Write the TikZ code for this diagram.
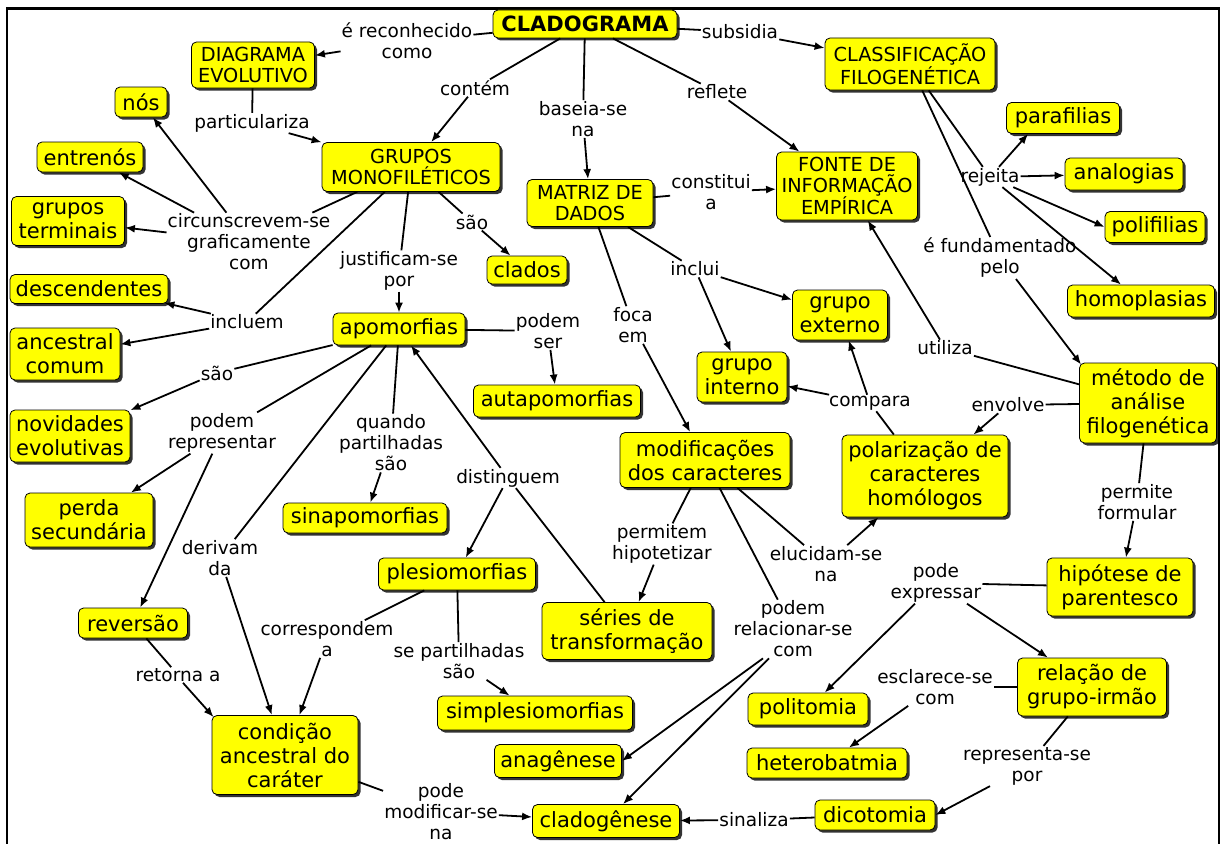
\documentclass[tikz,border=0pt]{standalone}
\usepackage{fontspec}
\setmainfont{DejaVu Sans}
\usetikzlibrary{arrows.meta,shadows}
\definecolor{cyellow}{RGB}{255,255,0}
\tikzset{
  cbox/.style={draw=black, line width=0.8pt, fill=cyellow, rounded corners=5pt,
    inner sep=0pt, align=center, font=\fontsize{21}{24}\selectfont,
    drop shadow={shadow xshift=2.5pt, shadow yshift=-2.5pt, fill=black, opacity=0.8}},
  capbox/.style={cbox, font=\fontsize{19.3}{21}\selectfont},
  lbl/.style={inner sep=1pt, align=center, font=\fontsize{18.5}{21}\selectfont},
  ln/.style={line width=1.8pt},
  arr/.style={ln, -{Latex[length=10pt,width=8pt]}},
}
\begin{document}
\begin{tikzpicture}[x=1pt,y=-1pt]
\useasboundingbox (0,0) rectangle (1225,843);
\fill[white] (0,0) rectangle (1225,843);
\draw[line width=2.2pt] (7,8.5) rectangle (1219,860);

% concept nodes
\node[capbox, font=\bfseries\fontsize{21}{24}\selectfont, minimum width=184pt, minimum height=28pt] (clad) at (585,24) {CLADOGRAMA};
\node[capbox,minimum width=123pt,minimum height=46pt] (diag) at (253,65) {DIAGRAMA\\EVOLUTIVO};
\node[cbox,minimum width=52pt,minimum height=30pt] (nos) at (141,102) {nós};
\node[cbox,minimum width=106pt,minimum height=30pt] (entre) at (90,157) {entrenós};
\node[cbox,minimum width=113pt,minimum height=49pt] (gterm) at (68,221) {grupos\\terminais};
\node[capbox,minimum width=178pt,minimum height=49pt] (gmono) at (411,167) {GRUPOS\\MONOFILÉTICOS};
\node[cbox,minimum width=158pt,minimum height=29pt] (desc) at (89,289) {descendentes};
\node[cbox,minimum width=110pt,minimum height=52pt] (anc) at (65,354) {ancestral\\comum};
\node[cbox,minimum width=120pt,minimum height=52pt] (novid) at (70,436) {novidades\\evolutivas};
\node[cbox,minimum width=128pt,minimum height=54pt] (perda) at (89,520) {perda\\secundária};
\node[cbox,minimum width=132pt,minimum height=32pt] (apo) at (399,329) {apomorfias};
\node[cbox,minimum width=80pt,minimum height=28pt] (clados) at (527,270) {clados};
\node[capbox,minimum width=126pt,minimum height=47pt] (matriz) at (590,203) {MATRIZ DE\\DADOS};
\node[capbox,minimum width=141pt,minimum height=68pt] (fonte) at (847,186) {FONTE DE\\INFORMAÇÃO\\EMPÍRICA};
\node[capbox,minimum width=170pt,minimum height=52pt] (classif) at (910,64) {CLASSIFICAÇÃO\\FILOGENÉTICA};
\node[cbox,minimum width=113pt,minimum height=31pt] (paraf) at (1063,118) {parafilias};
\node[cbox,minimum width=118pt,minimum height=32pt] (analog) at (1124,174) {analogias};
\node[cbox,minimum width=100pt,minimum height=31pt] (polif) at (1155,227) {polifilias};
\node[cbox,minimum width=147pt,minimum height=32pt] (homop) at (1141,301) {homoplasias};
\node[cbox,minimum width=95pt,minimum height=50pt] (gext) at (840,315) {grupo\\externo};
\node[cbox,minimum width=90pt,minimum height=50pt] (gint) at (742,377) {grupo\\interno};
\node[cbox,minimum width=167pt,minimum height=32pt] (autap) at (557,401) {autapomorfias};
\node[cbox,minimum width=170pt,minimum height=55pt] (modif) at (705,460) {modificações\\dos caracteres};
\node[cbox,minimum width=166pt,minimum height=82pt] (polar) at (925,476) {polarização de\\caracteres\\homólogos};
\node[cbox,minimum width=137pt,minimum height=80pt] (metodo) at (1148,403) {método de\\análise\\filogenética};
\node[cbox,minimum width=164pt,minimum height=30pt] (sinap) at (365,518) {sinapomorfias};
\node[cbox,minimum width=157pt,minimum height=32pt] (plesio) at (457,574) {plesiomorfias};
\node[cbox,minimum width=170pt,minimum height=57pt] (series) at (627,631) {séries de\\transformação};
\node[cbox,minimum width=146pt,minimum height=58pt] (hipot) at (1120,587) {hipótese de\\parentesco};
\node[cbox,minimum width=109pt,minimum height=30pt] (revers) at (133,623) {reversão};
\node[cbox,minimum width=146pt,minimum height=79pt] (cond) at (285,755) {condição\\ancestral do\\caráter};
\node[cbox,minimum width=195pt,minimum height=34pt] (simple) at (535,713) {simplesiomorfias};
\node[cbox,minimum width=127pt,minimum height=33pt] (anag) at (558,761) {anagênese};
\node[cbox,minimum width=147pt,minimum height=33pt] (clado) at (606,821) {cladogênese};
\node[cbox,minimum width=120pt,minimum height=32pt] (polit) at (808,709) {politomia};
\node[cbox,minimum width=160pt,minimum height=30pt] (hetero) at (827,763) {heterobatmia};
\node[cbox,minimum width=149pt,minimum height=58pt] (relac) at (1092,687) {relação de\\grupo-irmão};
\node[cbox,minimum width=120pt,minimum height=30pt] (dicot) at (875,815) {dicotomia};

% linking phrases
\node[lbl] (lrec) at (407,41) {é reconhecido\\como};
\node[lbl] (lsub) at (740,32) {subsidia};
\node[lbl] (lcont) at (475,88) {contém};
\node[lbl] (lbase) at (583,119) {baseia-se\\na};
\node[lbl] (lrefl) at (717,92) {reflete};
\node[lbl] (lpart) at (252,123) {particulariza};
\node[lbl] (lcirc) at (249,242) {circunscrevem-se\\graficamente\\com};
\node[lbl] (ljust) at (399,271) {justificam-se\\por};
\node[lbl] (lsao1) at (472,222) {são};
\node[lbl] (lincl) at (247,322) {incluem};
\node[lbl] (lsao2) at (217,373) {são};
\node[lbl] (lpod) at (222,433) {podem\\representar};
\node[lbl] (lderiv) at (220,558) {derivam\\da};
\node[lbl] (lquand) at (391,443) {quando\\partilhadas\\são};
\node[lbl] (lpodser) at (548,331) {podem\\ser};
\node[lbl] (ldist) at (508,478) {distinguem};
\node[lbl] (lfoca) at (633,325) {foca\\em};
\node[lbl] (linclui) at (695,269) {inclui};
\node[lbl] (lconst) at (711,192) {constitui\\a};
\node[lbl] (lrej) at (990,177) {rejeita};
\node[lbl] (lfund) at (1000,258) {é fundamentado\\pelo};
\node[lbl] (lutil) at (945,348) {utiliza};
\node[lbl] (lenv) at (1008,405) {envolve};
\node[lbl] (lcomp) at (870,403) {compara};
\node[lbl] (leluc) at (826,564) {elucidam-se\\na};
\node[lbl] (lperm) at (662,544) {permitem\\hipotetizar};
\node[lbl] (lrel) at (793,629) {podem\\relacionar-se\\com};
\node[lbl] (lexpr) at (936,583) {pode\\expressar};
\node[lbl] (lescl) at (935,687) {esclarece-se\\com};
\node[lbl] (lrepr) at (1027,766) {representa-se\\por};
\node[lbl] (lsinal) at (754,820) {sinaliza};
\node[lbl] (lmodif) at (441,812) {pode\\modificar-se\\na};
\node[lbl] (lcorr) at (327,639) {correspondem\\a};
\node[lbl] (lsepart) at (459,661) {se partilhadas\\são};
\node[lbl] (lret) at (178,675) {retorna a};
\node[lbl] (lpermf) at (1137,502) {permite\\formular};

% connectors
\draw[ln] (clad) -- (lrec);   \draw[arr] (lrec) -- (diag);
\draw[ln] (clad) -- (lsub);   \draw[arr] (lsub) -- (classif);
\draw[ln] (clad) -- (lcont);  \draw[arr] (lcont) -- (gmono);
\draw[ln] (clad) -- (lbase);  \draw[arr] (lbase) -- (matriz);
\draw[ln] (clad) -- (lrefl);  \draw[arr] (lrefl) -- (fonte);
\draw[ln] (diag) -- (lpart);  \draw[arr] (lpart) -- (gmono);
\draw[ln] (gmono) -- (lcirc);
\draw[arr] (lcirc) -- (nos); \draw[arr] (lcirc) -- (entre); \draw[arr] (lcirc) -- (gterm);
\draw[ln] (gmono) -- (ljust); \draw[arr] (ljust) -- (apo);
\draw[ln] (gmono) -- (lsao1); \draw[arr] (lsao1) -- (clados);
\draw[ln] (gmono) -- (lincl);
\draw[arr] (lincl) -- ([xshift=-4pt,yshift=1pt]desc.south east); \draw[arr] (lincl) -- (anc);
\draw[ln] (apo) -- (lsao2);   \draw[arr] (lsao2) -- (novid);
\draw[ln] (apo) -- (lpod);    \draw[arr] (lpod) -- (perda); \draw[arr] (lpod) -- (revers);
\draw[ln] (apo) -- (lderiv);  \draw[arr] (lderiv) -- (cond);
\draw[ln] (apo) -- (lquand);  \draw[arr] (lquand) -- (sinap);
\draw[ln] (apo) -- (lpodser); \draw[arr] (lpodser) -- (autap);
\draw[ln] (series) -- (ldist); \draw[arr] (ldist) -- (apo); \draw[arr] (ldist) -- (plesio);
\draw[ln] (matriz) -- (lfoca); \draw[arr] (lfoca) -- (modif);
\draw[ln] (matriz) -- (linclui); \draw[arr] (linclui) -- (gext); \draw[arr] (linclui) -- (gint);
\draw[ln] (matriz) -- (lconst); \draw[arr] (lconst) -- (fonte);
\draw[ln] (classif) -- (lrej);
\draw[arr] (lrej) -- ([xshift=22pt]paraf.south west);
\draw[arr] (lrej) -- (analog);
\draw[arr] (lrej) -- (polif.west);
\draw[arr] (lrej) -- (homop);
\draw[ln] (classif) -- (lfund); \draw[arr] (lfund) -- ([xshift=2pt,yshift=-2pt]metodo.north west);
\draw[ln] (metodo) -- (lutil); \draw[arr] (lutil) -- (fonte);
\draw[ln] (metodo) -- (lenv);  \draw[arr] (lenv) -- (polar);
\draw[ln] (polar) -- (lcomp);  \draw[arr] (lcomp) -- (gext); \draw[arr] (lcomp) -- (gint);
\draw[ln] (modif) -- (leluc);  \draw[arr] (leluc) -- (polar);
\draw[ln] (modif) -- (lperm);  \draw[arr] (lperm) -- (series);
\draw[ln] (modif) -- (lrel);
\draw[arr] ([xshift=-30pt]lrel.south) -- (anag.east);
\draw[arr] ([xshift=-24pt]lrel.south) -- ([xshift=17pt]clado.north);
\draw[ln] (hipot) -- (lexpr);  \draw[arr] (lexpr) -- (polit); \draw[arr] (lexpr) -- (relac);
\draw[ln] (relac) -- (lescl);  \draw[arr] (lescl) -- (hetero);
\draw[ln] (relac) -- (lrepr);  \draw[arr] ([xshift=-37pt]lrepr.south) -- (dicot.east);
\draw[ln] (dicot) -- (lsinal); \draw[arr] (lsinal) -- (clado);
\draw[ln] (cond) -- (lmodif);  \draw[arr] (lmodif) -- (clado);
\draw[ln] (plesio) -- (lcorr); \draw[arr] (lcorr) -- (cond);
\draw[ln] (plesio) -- (lsepart); \draw[arr] (lsepart) -- (simple);
\draw[ln] (revers) -- (lret);  \draw[arr] ([xshift=5pt]lret.south) -- ([xshift=2pt,yshift=-2pt]cond.north west);
\draw[ln] (metodo) -- (lpermf); \draw[arr] (lpermf) -- (hipot);
\end{tikzpicture}
\end{document}
